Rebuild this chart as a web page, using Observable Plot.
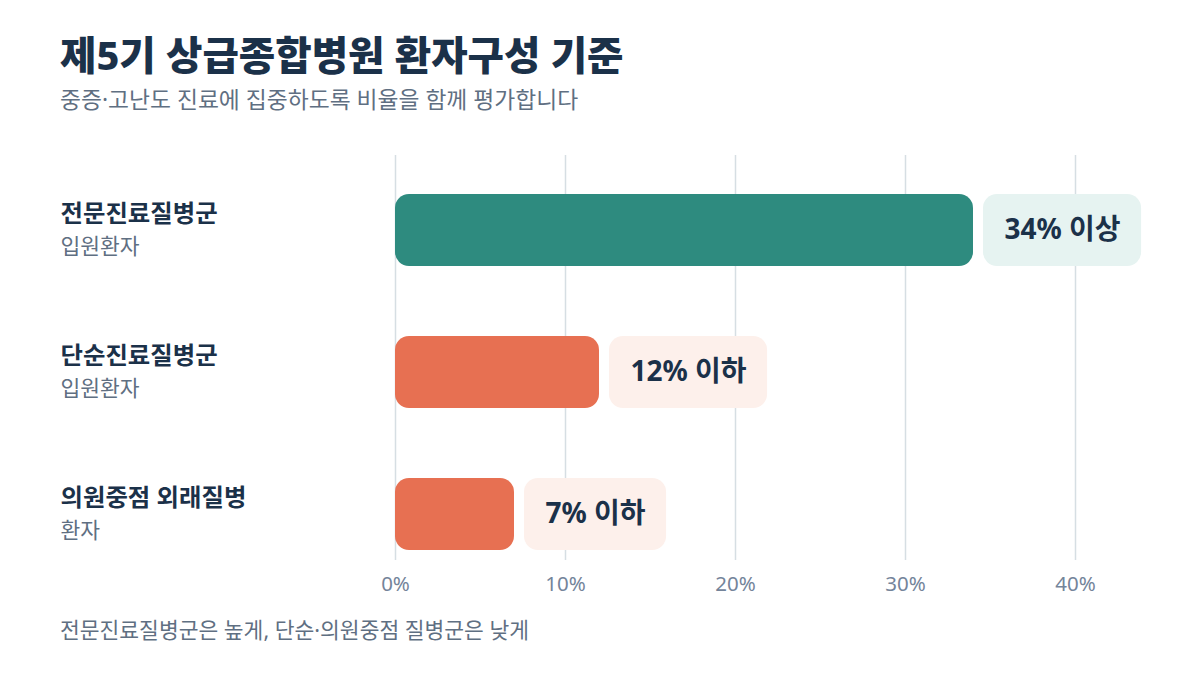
<!DOCTYPE html>
<html>
<head>
<meta charset="utf-8">
<script src="https://cdn.jsdelivr.net/npm/d3@7"></script>
<script src="https://cdn.jsdelivr.net/npm/@observablehq/plot@0.6"></script>
<style>
  html, body { margin: 0; padding: 0; background: #ffffff; }
  body { width: 1200px; height: 675px; position: relative; overflow: hidden;
         font-family: "Noto Sans", "Noto Sans CJK KR", sans-serif; }
  #title { position: absolute; left: 60px; top: 33px; font-size: 39.6px; line-height: 44px;
           font-weight: 800; color: #1b3149; white-space: nowrap; }
  #subtitle { position: absolute; left: 60px; top: 87px; font-size: 22.8px; line-height: 26px;
              color: #5f6f82; white-space: nowrap; }
  #chart { position: absolute; left: 0; top: 140px; }
  #caption { position: absolute; left: 60px; top: 617px; font-size: 21.5px; line-height: 26px;
             color: #5f6f82; white-space: nowrap; }
</style>
</head>
<body>
<div id="title">제5기 상급종합병원 환자구성 기준</div>
<div id="subtitle">중증·고난도 진료에 집중하도록 비율을 함께 평가합니다</div>
<div id="chart"></div>
<div id="caption">전문진료질병군은 높게, 단순·의원중점 질병군은 낮게</div>
<script>
// ---- data ----
const categories = ["전문진료질병군", "단순진료질병군", "의원중점 외래질병"];
const subLabels = ["입원환자", "입원환자", "환자"];
const values = [34, 12, 7];
const qualifiers = ["이상", "이하", "이하"];
const groups = ["high", "low", "low"];
const xTicks = [0, 10, 20, 30, 40];

// ---- styles ----
const navy = "#1b3149";
const gray = "#5f6f82";
const barColors = {high: "#2e8b7f", low: "#e77052"};
const boxColors = {high: "#e6f3f1", low: "#fdf0eb"};
const fontStack = "'Noto Sans', 'Noto Sans CJK KR', sans-serif";
const labelSize = 28;
const labelFont = `700 ${labelSize}px ` + fontStack;
const gapPx = 10, padPx = 21;

const rows = categories.map((c, i) => ({
  cat: c, sub: subLabels[i], value: values[i], group: groups[i],
  label: `${values[i]}% ${qualifiers[i]}`
}));

const ctx = document.createElement("canvas").getContext("2d");
ctx.font = labelFont;
rows.forEach(r => { r.textW = ctx.measureText(r.label).width; });

const base = {
  width: 1200, height: 470,
  marginTop: 15, marginBottom: 50, marginLeft: 395, marginRight: 125,
  x: {domain: [0, 40], label: null},
  y: {domain: categories, paddingInner: 0.493, paddingOuter: 0.1725, align: 0.796, axis: null}
};

// scale factor (px per %)
const probe = Plot.plot({...base, marks: [Plot.ruleX([0])]});
const sx = probe.scale("x");
const k = (sx.range[1] - sx.range[0]) / (sx.domain[1] - sx.domain[0]);

const plot = Plot.plot({
  ...base,
  style: {fontFamily: fontStack, background: "transparent"},
  marks: [
    Plot.gridX(xTicks, {stroke: "#d6dee3", strokeOpacity: 1, strokeWidth: 1.5}),
    Plot.axisX(xTicks, {tickFormat: d => d + "%", tickSize: 0, tickPadding: 16, label: null,
      fontSize: 20.5, fill: "#74849a", color: "#74849a"}),
    Plot.barX(rows, {y: "cat", x1: 0, x2: "value", fill: d => barColors[d.group], rx: 14}),
    Plot.barX(rows, {y: "cat", x1: "value",
      x2: d => d.value + (gapPx + d.textW + 2 * padPx) / k,
      insetLeft: gapPx, fill: d => boxColors[d.group], rx: 14}),
    Plot.text(rows, {y: "cat", x: d => d.value + (gapPx + padPx + d.textW / 2) / k,
      text: "label", fontSize: labelSize, fontWeight: 700, fill: navy, textAnchor: "middle"}),
    Plot.text(rows, {y: "cat", text: "cat", frameAnchor: "left", dx: -335, dy: -16,
      textAnchor: "start", fontSize: 24.4, fontWeight: 700, fill: navy}),
    Plot.text(rows, {y: "cat", text: "sub", frameAnchor: "left", dx: -335, dy: 17,
      textAnchor: "start", fontSize: 21.5, fill: gray})
  ]
});
document.getElementById("chart").appendChild(plot);
</script>
</body>
</html>
